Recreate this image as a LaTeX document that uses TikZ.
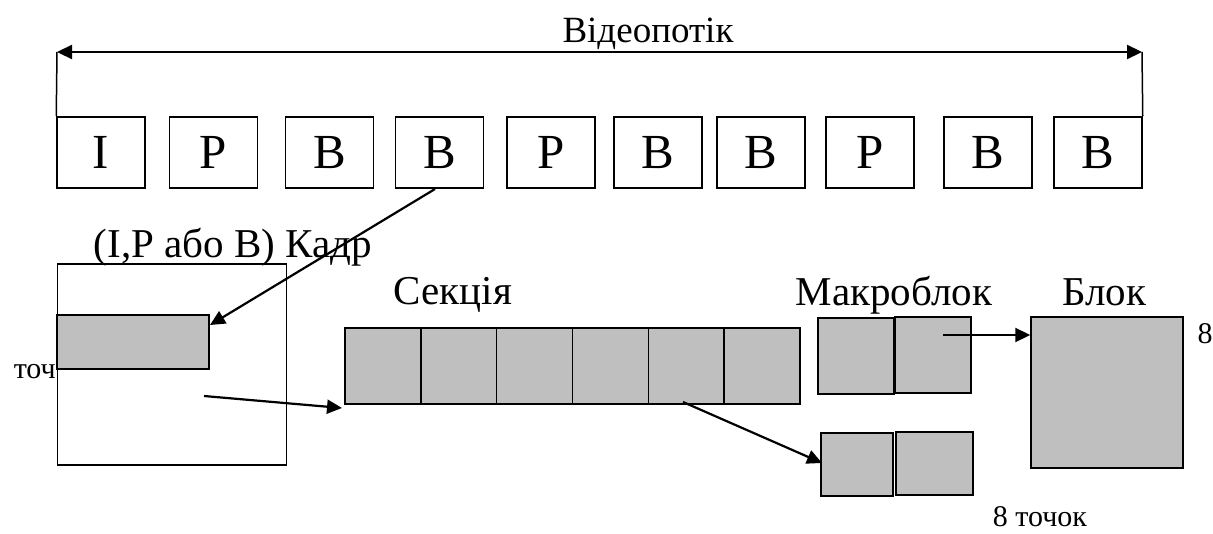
\documentclass[tikz,border=0pt]{standalone}
\usepackage{fontspec}
\setmainfont{Liberation Serif}
\usetikzlibrary{arrows.meta}

\tikzset{
  x=1pt, y=-1pt,
  framebox/.style={draw, line width=1.5pt, minimum width=88pt, minimum height=71pt,
    inner sep=0pt, font=\fontsize{49}{52}\selectfont},
  graycell/.style={draw, fill=gray!50, line width=1.5pt, inner sep=0pt},
  outline/.style={draw, line width=1.6pt, inner sep=0pt},
  link/.style={line width=2.2pt, -{Triangle[length=15pt,width=14pt]}},
  title/.style={inner sep=0pt, anchor=base, font=\fontsize{37}{40}\selectfont},
  caption/.style={inner sep=0pt, anchor=base, font=\fontsize{41}{44}\selectfont},
  note/.style={inner sep=0pt, anchor=base, font=\fontsize{30}{32}\selectfont}
}

\begin{document}
\begin{tikzpicture}
\useasboundingbox (0,0) rectangle (1213,533);

% video stream: sequence of frames
\node[title] (vtitle) at (648,42) {Відеопотік};
\foreach \t/\cx [count=\i] in {I/101, P/213.5, B/329.5, B/439.5, P/551,
                               B/658, B/761, P/870, B/988, B/1098} {
  \node[framebox] (f\i) at (\cx,152.5) {\t};
}
\coordinate (sl) at (57,52);
\coordinate (sr) at (1142,52);
\draw[line width=1.5pt] (f1.north west) -- (sl);
\draw[line width=1.5pt] (f10.north east) -- (sr);
\draw[line width=2.2pt, {Triangle[length=15pt,width=14pt]}-{Triangle[length=15pt,width=14pt]}] (sl) -- (sr);

% one frame with a slice inside
\node[caption] (kadr) at (233,257) {(I,P або B) Кадр};
\node[outline, minimum width=229pt, minimum height=201pt] (frame) at (172,364.5) {};
\node[graycell, minimum width=152pt, minimum height=54pt] (bar) at (133,342) {};
\node[note, anchor=base east] (toch) at (56,378) {точ};

% slice made of macroblocks
\node[caption] (sect) at (453,304) {Секція};
\foreach \i in {1,...,6} {
  \node[graycell, minimum width=75.83pt, minimum height=76pt]
    (s\i) at ({345+75.83*(\i-0.5)},366) {};
}

% macroblocks
\node[caption] (mtitle) at (894,305) {Макроблок};
\node[graycell, minimum width=76pt, minimum height=76pt] (m1) at (856,356) {};
\node[graycell, minimum width=76pt, minimum height=76pt] (m2) at (933,355) {};
\node[graycell, minimum width=72pt, minimum height=63pt] (n1) at (857,464.5) {};
\node[graycell, minimum width=77pt, minimum height=63pt] (n2) at (934.5,463.5) {};

% block
\node[caption] (btitle) at (1104,305) {Блок};
\node[graycell, minimum width=152pt, minimum height=151pt] (blk) at (1107,392.5) {};
\node[note] (eight) at (1205,343) {8};
\node[note] (points) at (1040,526) {8 точок};

% connectors
\coordinate (a1s) at (435,189);
\coordinate (a1e) at (210,325);
\draw[link] (a1s) -- (a1e);
\coordinate (a2s) at (204,396);
\coordinate (a2e) at (342,408);
\draw[link] (a2s) -- (a2e);
\coordinate (a3s) at (683,402);
\coordinate (a3e) at (822,463);
\draw[link] (a3s) -- (a3e);
\coordinate (a4s) at (943,335);
\draw[link] (a4s) -- (blk.west |- a4s);
\end{tikzpicture}
\end{document}
